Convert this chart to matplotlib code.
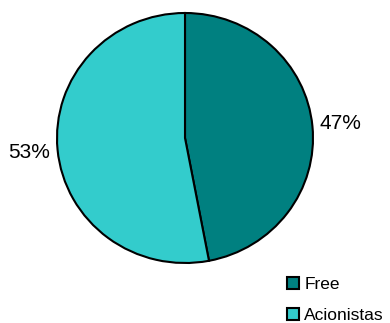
import matplotlib
matplotlib.use('Agg')
import matplotlib.pyplot as plt
from matplotlib.patches import Patch

# --- Data ---
labels = ["Free", "Acionistas"]
shares = [47, 53]
colors = ["#008080", "#33CCCC"]

plt.rcParams['font.family'] = ['Liberation Sans', 'DejaVu Sans']

fig = plt.figure(figsize=(3.9, 3.23), dpi=100)
# pie box: x 57..313, y 13..263 (pixels)
ax = fig.add_axes([57 / 390, (323 - 263) / 323, 256 / 390, 250 / 323])

wedges, _, autotexts = ax.pie(
    shares, colors=colors, startangle=90, counterclock=False,
    autopct=lambda p: f"{round(p)}%", pctdistance=1.22, radius=1.0,
    wedgeprops=dict(edgecolor='black', linewidth=1.5),
    textprops=dict(fontsize=15, color='black'))
ax.set_xlim(-1, 1)
ax.set_ylim(-1, 1)
ax.set_aspect('auto')

handles = [Patch(facecolor=c, edgecolor='black', linewidth=1.5) for c in colors]
fig.legend(handles, labels, loc='center left', bbox_to_anchor=(287 / 390, 23 / 323),
           frameon=False, fontsize=12.5, handlelength=0.7, handleheight=0.7,
           handletextpad=0.3, labelspacing=0.9, borderpad=0, borderaxespad=0)

fig.savefig("out.png", dpi=100)
